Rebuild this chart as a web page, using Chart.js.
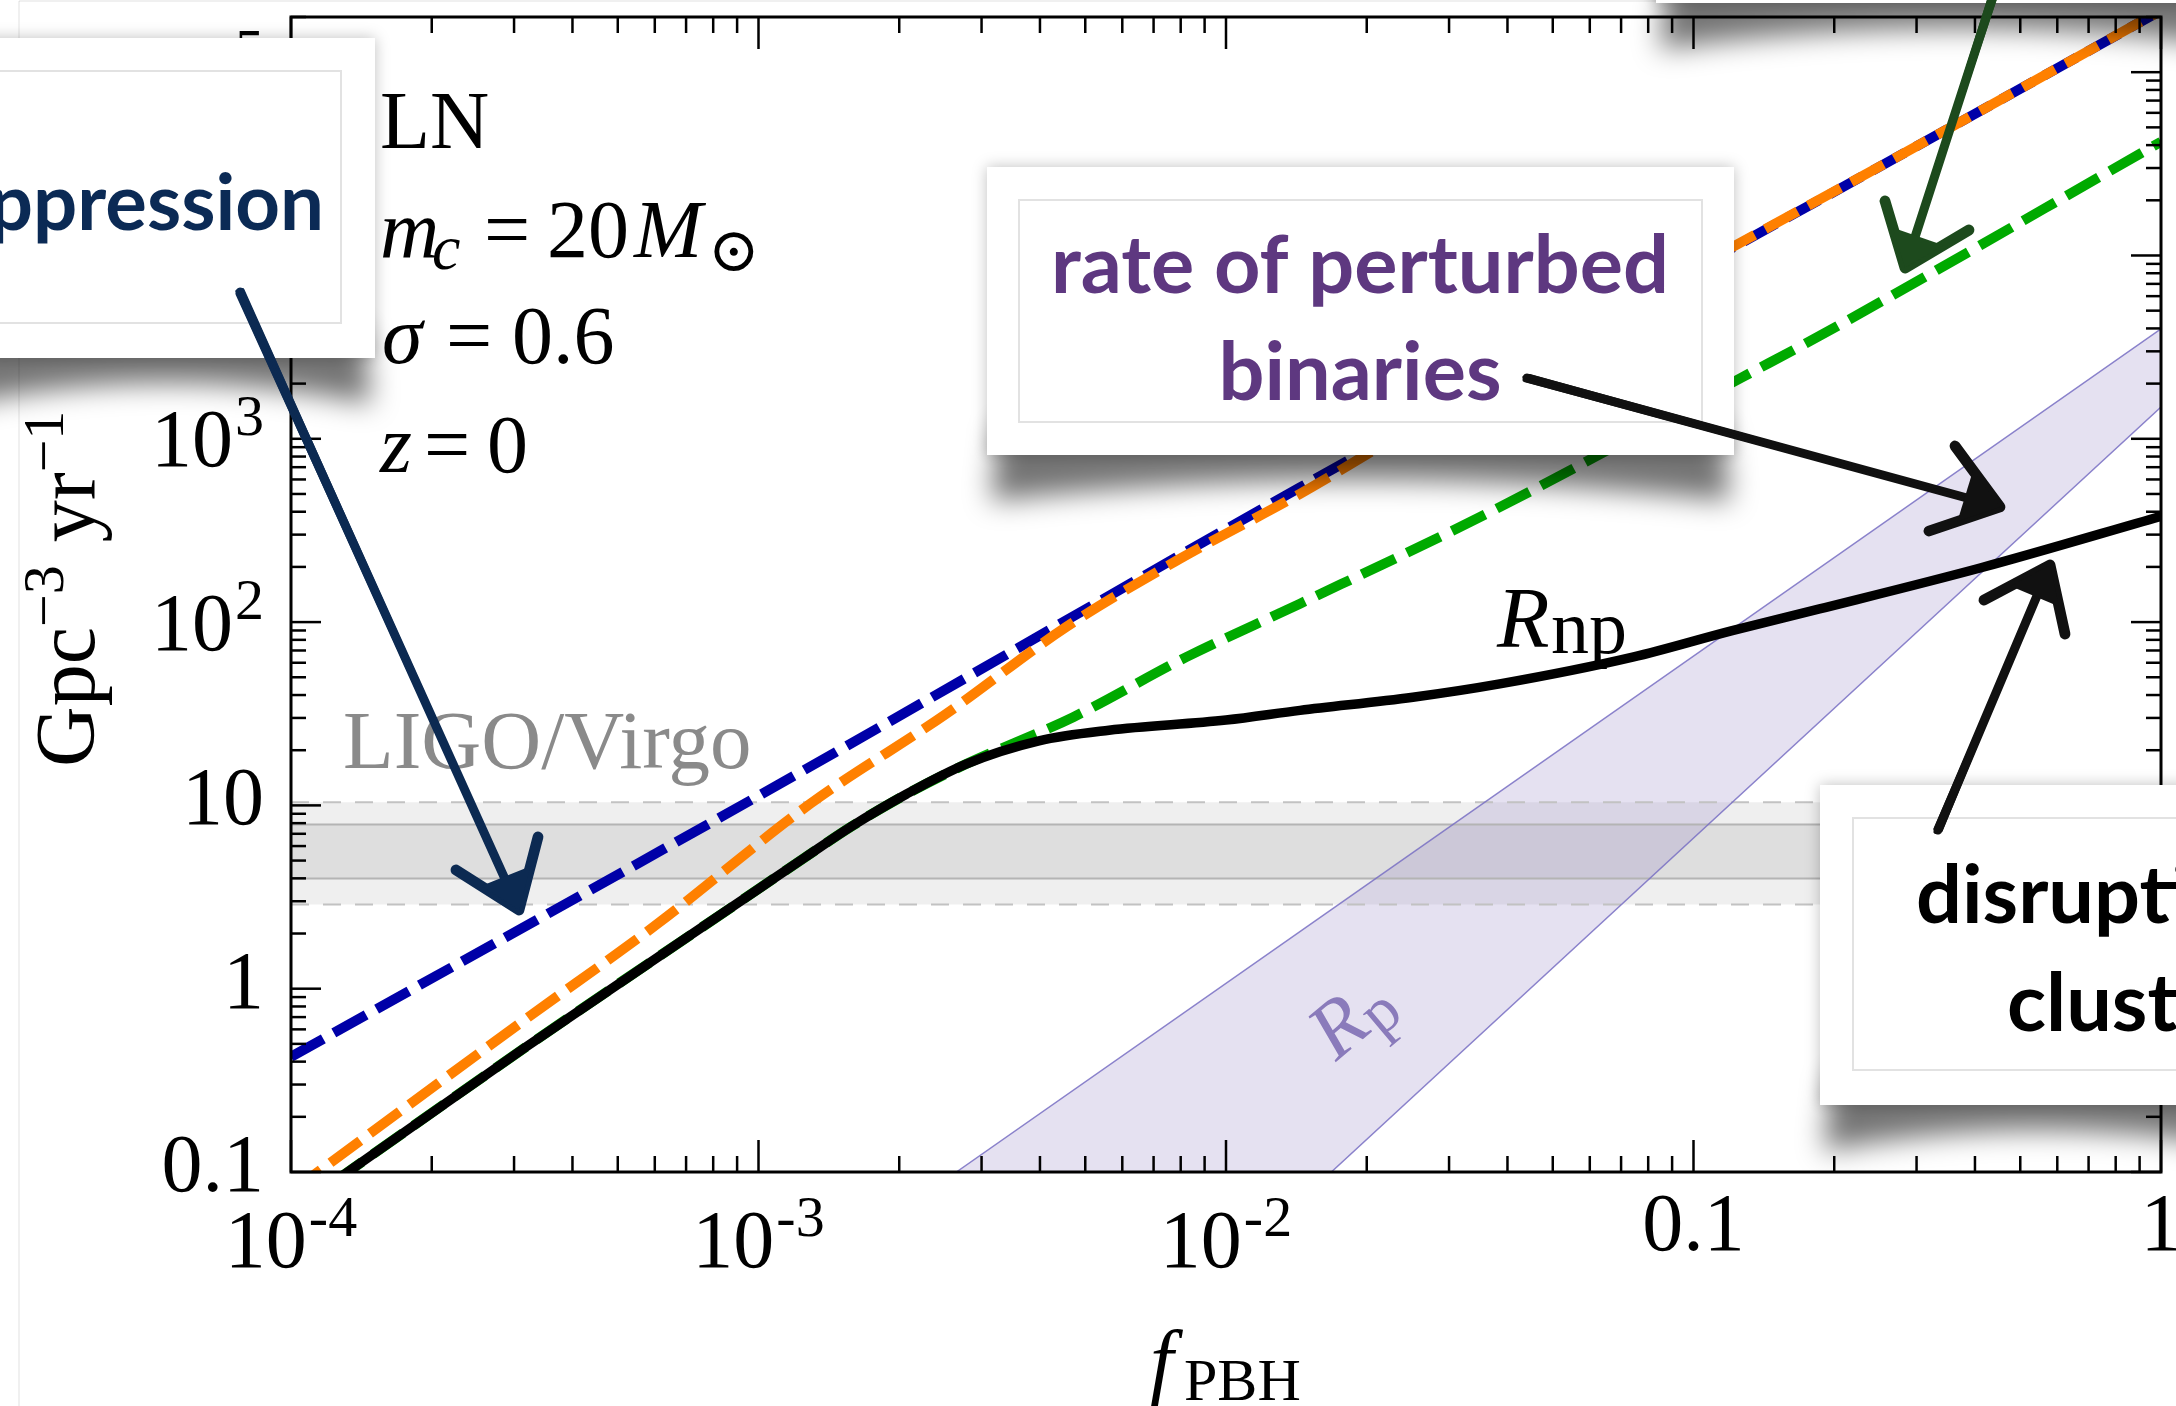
<!DOCTYPE html>
<html>
<head>
<meta charset="utf-8">
<script src="https://cdn.jsdelivr.net/npm/chart.js@4.4.0/dist/chart.umd.min.js"></script>
<style>
  html, body { margin: 0; padding: 0; background: #fff; }
  #wrap { width: 2176px; height: 1406px; }
</style>
</head>
<body>
<div id="wrap"><canvas id="rateChart" width="2176" height="1406"></canvas></div>
<script>
// axis ticks
const xTickValues = [1e-4, 1e-3, 1e-2, 0.1, 1];
const xTickLabels = [["10", "-4"], ["10", "-3"], ["10", "-2"], ["0.1"], ["1"]];
const yTickValues = [0.1, 1, 10, 100, 1e3, 1e4, 1e5];
const yTickLabels = [["0.1"], ["1"], ["10"], ["10", "2"], ["10", "3"], ["10", "4"], ["10", "5"]];

// blue dashed: no suppression
const fBlue = [1e-4, 1.11e-3, 1.44e-2, 0.392, 1];
const rateBlue = [0.425, 13.1, 543, 57500, 2.17e5];

// orange dashed: early-universe suppression
const fOrange = [1e-4, 3.16e-4, 6.08e-4, 1.29e-3, 2.52e-3, 4.55e-3, 7.96e-3, 1.44e-2, 3.16e-2, 0.392, 1];
const rateOrange = [0.078, 0.676, 2.26, 10.2, 31.6, 94, 221, 501, 1650, 57500, 2.17e5];

// green dashed
const fGreen = [1e-4, 3.16e-4, 1e-3, 1.26e-3, 1.58e-3, 2.07e-3, 2.78e-3, 4.71e-3, 8.22e-3, 1.44e-2, 3.85e-2, 0.127, 0.186, 1];
const rateGreen = [0.0605, 0.475, 3.5, 5.22, 7.67, 11.5, 16.8, 30.3, 64.4, 126, 424, 2163, 3640, 41700];

// black solid: R_np
const fNp = [1e-4, 3.16e-4, 1e-3, 1.26e-3, 1.58e-3, 2.07e-3, 2.78e-3, 3.98e-3, 5.62e-3, 1e-2, 1.44e-2, 2.51e-2, 3.85e-2, 7.41e-2, 0.121, 0.186, 0.412, 1];
const rateNp = [0.0605, 0.475, 3.5, 5.22, 7.67, 11.5, 16.8, 22.5, 25.7, 29.2, 33.0, 38.9, 46.0, 64.4, 89.9, 118, 198, 378];

// purple band: R_p
const fBand = [2.65e-3, 1.68e-2, 1];
const bandUpper = [0.1, 2.7, 3980];
const bandLower = [0.0013, 0.1, 1490];

// LIGO/Virgo band
const fLigo = [1e-4, 1];
const ligoOuter = [2.88, 10.4];
const ligoInner = [3.99, 7.87];

const serif = '"Liberation Serif", "Times New Roman", serif';
const sans = 'Lato, "Open Sans", sans-serif';

const pts = (xs, ys) => xs.map((f, i) => ({ x: f, y: ys[i] }));
const flat = (xs, v) => xs.map((f) => ({ x: f, y: v }));

function line(ctx, x0, y0, x1, y1) {
  ctx.beginPath();
  ctx.moveTo(x0, y0);
  ctx.lineTo(x1, y1);
  ctx.stroke();
}

// tick label with optional superscript
function drawTickLabel(ctx, parts, x, base, align) {
  ctx.font = "82px " + serif;
  const w1 = ctx.measureText(parts[0]).width;
  let w2 = 0;
  if (parts[1]) {
    ctx.font = "58px " + serif;
    w2 = ctx.measureText(parts[1]).width + 2;
  }
  const left = align === "right" ? x - w1 - w2 : x - (w1 + w2) / 2;
  ctx.font = "82px " + serif;
  ctx.fillText(parts[0], left, base);
  if (parts[1]) {
    ctx.font = "58px " + serif;
    ctx.fillText(parts[1], left + w1 + 2, base - 31);
  }
}

// Frame, ticks and tick labels
const frameAxes = {
  id: "frameAxes",
  afterDatasetsDraw(chart) {
    const { ctx, chartArea: a, scales } = chart;
    const x = scales.x, y = scales.y;
    ctx.save();
    ctx.strokeStyle = "#000";
    ctx.lineWidth = 2.5;
    for (let e = -4; e <= 0; e++) {
      for (let m = 1; m <= 9; m++) {
        const v = m * Math.pow(10, e);
        if (v > 1.0001) break;
        const px = x.getPixelForValue(v);
        const len = m === 1 ? 32 : 16;
        line(ctx, px, a.bottom, px, a.bottom - len);
        line(ctx, px, a.top, px, a.top + len);
      }
    }
    for (let e = -1; e <= 5; e++) {
      for (let m = 1; m <= 9; m++) {
        const v = m * Math.pow(10, e);
        if (v > y.max) break;
        const py = y.getPixelForValue(v);
        const len = m === 1 ? 30 : 15;
        line(ctx, a.left, py, a.left + len, py);
        line(ctx, a.right, py, a.right - len, py);
      }
    }
    ctx.lineWidth = 3;
    ctx.strokeRect(a.left, a.top, a.right - a.left, a.bottom - a.top);

    ctx.fillStyle = "#000";
    xTickValues.forEach((v, i) => {
      const lab = xTickLabels[i];
      drawTickLabel(ctx, lab, x.getPixelForValue(v), lab[1] ? 1267 : 1250, "center");
    });
    yTickValues.forEach((v, i) => {
      const lab = yTickLabels[i];
      const py = y.getPixelForValue(v);
      drawTickLabel(ctx, lab, 264, py + (lab[1] ? 27.5 : 19), "right");
    });

    // axis titles
    ctx.font = "italic 84px " + serif;
    ctx.fillText("f", 1150, 1389);
    ctx.font = "60px " + serif;
    ctx.fillText("PBH", 1184, 1400);

    ctx.save();
    ctx.translate(94, 767);
    ctx.rotate(-Math.PI / 2);
    let cx = 0;
    const yTitle = [
      ["Gpc", 84, 0],
      ["\u22123", 58, -31],
      [" yr", 84, 0],
      ["\u22121", 58, -31],
    ];
    yTitle.forEach(([t, s, dy]) => {
      ctx.font = s + "px " + serif;
      ctx.fillText(t, cx, dy);
      cx += ctx.measureText(t).width + (dy ? 2 : 0);
    });
    ctx.restore();
    ctx.restore();
  },
};

function mathRow(ctx, parts, y) {
  parts.forEach((p) => {
    ctx.font = (p.i ? "italic " : "") + (p.s || 82) + "px " + (p.f || serif);
    ctx.fillText(p.t, p.x, y + (p.dy || 0));
  });
}

function callout(ctx, x0, y0, x1, y1, inner) {
  ctx.save();
  ctx.filter = "blur(14px)";
  ctx.fillStyle = "rgba(0,0,0,0.55)";
  ctx.beginPath();
  ctx.moveTo(x0 + 12, y1 - 30);
  ctx.lineTo(x1 - 12, y1 - 30);
  ctx.lineTo(x1 - 4, y1 + 46);
  ctx.quadraticCurveTo((x0 + x1) / 2, y1 + 4, x0 + 4, y1 + 46);
  ctx.closePath();
  ctx.fill();
  ctx.restore();

  ctx.save();
  ctx.shadowColor = "rgba(0,0,0,0.25)";
  ctx.shadowBlur = 14;
  ctx.fillStyle = "#fff";
  ctx.fillRect(x0, y0, x1 - x0, y1 - y0);
  ctx.restore();

  if (inner) {
    ctx.save();
    ctx.strokeStyle = "#e2e2e2";
    ctx.lineWidth = 2;
    ctx.strokeRect(inner[0], inner[1], inner[2] - inner[0], inner[3] - inner[1]);
    ctx.restore();
  }
}

function sketchArrow(ctx, color, x0, y0, x1, y1, b1, b2, w) {
  ctx.save();
  ctx.strokeStyle = color;
  ctx.fillStyle = color;
  ctx.lineCap = "round";
  ctx.lineJoin = "round";
  const offs = [[0, 0, w], [2.5, -2, w * 0.45], [-2.5, 2, w * 0.45], [4, 1, 1.4], [-4, -1, 1.4]];
  offs.forEach(([dx, dy, lw]) => {
    ctx.lineWidth = lw;
    line(ctx, x0 + dx, y0 + dy, x1 + dx * 0.3, y1 + dy * 0.3);
  });
  ctx.lineWidth = w * 1.2;
  ctx.beginPath();
  ctx.moveTo(b1[0], b1[1]);
  ctx.lineTo(x1, y1);
  ctx.lineTo(b2[0], b2[1]);
  ctx.stroke();
  ctx.beginPath();
  ctx.moveTo(x1, y1);
  ctx.lineTo(x1 + (b1[0] - x1) * 0.6, y1 + (b1[1] - y1) * 0.6);
  ctx.lineTo(x1 + (b2[0] - x1) * 0.6, y1 + (b2[1] - y1) * 0.6);
  ctx.closePath();
  ctx.fill();
  ctx.restore();
}

function fitSize(ctx, text, width, weight) {
  ctx.font = weight + " 100px " + sans;
  return (100 * width) / ctx.measureText(text).width;
}

// Labels, call-out boxes and arrows on top of the plot
const annotations = {
  id: "annotations",
  afterDraw(chart) {
    const ctx = chart.ctx;
    ctx.save();

    // faint outer frame of the slide
    ctx.strokeStyle = "rgba(0,0,0,0.06)";
    ctx.lineWidth = 2;
    line(ctx, 19, 1, 1656, 1);
    line(ctx, 19, 1, 19, 1406);

    ctx.fillStyle = "#8a8a8a";
    ctx.font = "83px " + serif;
    ctx.fillText("LIGO/Virgo", 343, 768);

    ctx.fillStyle = "#000";
    ctx.font = "italic 86px " + serif;
    ctx.fillText("R", 1497, 647);
    ctx.font = "76px " + serif;
    ctx.fillText("np", 1551, 653);

    ctx.save();
    ctx.fillStyle = "#8a7bbb";
    ctx.translate(1336, 1062);
    ctx.rotate(-0.7);
    ctx.font = "italic 80px " + serif;
    ctx.fillText("R", 0, 0);
    ctx.font = "64px " + serif;
    ctx.fillText("p", 50, 10);
    ctx.restore();

    ctx.fillStyle = "#000";
    mathRow(ctx, [{ t: "LN", x: 380 }], 148);
    mathRow(ctx, [
      { t: "m", x: 380, i: true },
      { t: "c", x: 432, i: true, s: 64, dy: 12 },
      { t: "=", x: 484 },
      { t: "20", x: 547 },
      { t: "M", x: 634, i: true },
      { t: "\u2299", x: 708, s: 62, dy: 14, f: '"DejaVu Serif", serif' },
    ], 257);
    mathRow(ctx, [
      { t: "\u03c3", x: 382, i: true },
      { t: "=", x: 446 },
      { t: "0.6", x: 512 },
    ], 363);
    mathRow(ctx, [
      { t: "z", x: 380, i: true },
      { t: "=", x: 424 },
      { t: "0", x: 487 },
    ], 472);

    // call-out boxes
    const textSize = fitSize(ctx, "rate of perturbed", 618, "bold");

    callout(ctx, 1656, -120, 2260, 3, null);

    callout(ctx, -40, 38, 375, 358, [-10, 71, 341, 323]);
    ctx.fillStyle = "#0b2a55";
    const supSize = fitSize(ctx, "pression", 291, "bold");
    ctx.font = "bold " + supSize + "px " + sans;
    ctx.textAlign = "right";
    ctx.fillText("suppression", 324, 230);
    ctx.textAlign = "left";

    callout(ctx, 987, 167, 1734, 455, [1019, 200, 1702, 422]);
    ctx.fillStyle = "#5e3880";
    ctx.font = "bold " + textSize + "px " + sans;
    ctx.textAlign = "center";
    ctx.fillText("rate of perturbed", 1360, 293);
    ctx.fillText("binaries", 1360, 400);
    ctx.textAlign = "left";

    callout(ctx, 1820, 785, 2260, 1105, [1853, 818, 2240, 1070]);
    ctx.fillStyle = "#000";
    ctx.font = "bold " + textSize + "px " + sans;
    ctx.fillText("disruption in", 1916, 923);
    ctx.fillText("clusters", 2007, 1031);

    // arrows
    sketchArrow(ctx, "#0c2a52", 240, 292, 519, 910, [456, 870], [538, 837], 9);
    sketchArrow(ctx, "#111", 1527, 378, 2000, 507, [1955, 446], [1929, 531], 9);
    sketchArrow(ctx, "#111", 1938, 830, 2050, 565, [1984, 600], [2065, 634], 9);
    sketchArrow(ctx, "#1d4a1d", 1995, -10, 1905, 268, [1885, 201], [1969, 230], 9);

    ctx.restore();
  },
};

const ctx = document.getElementById("rateChart").getContext("2d");

new Chart(ctx, {
  type: "line",
  data: {
    datasets: [
      {
        label: "R_np",
        data: pts(fNp, rateNp),
        borderColor: "#000",
        borderWidth: 9.5,
        cubicInterpolationMode: "monotone",
        fill: false,
      },
      {
        label: "suppressed",
        data: pts(fOrange, rateOrange),
        borderColor: "#ff8000",
        borderWidth: 10,
        borderDash: [37, 12],
        cubicInterpolationMode: "monotone",
        fill: false,
      },
      {
        label: "unsuppressed",
        data: pts(fBlue, rateBlue),
        borderColor: "#0000a8",
        borderWidth: 10,
        borderDash: [37, 12],
        cubicInterpolationMode: "monotone",
        fill: false,
      },
      {
        label: "green",
        data: pts(fGreen, rateGreen),
        borderColor: "#00aa00",
        borderWidth: 10,
        borderDash: [37, 13],
        cubicInterpolationMode: "monotone",
        fill: false,
      },
      {
        label: "R_p upper",
        data: pts(fBand, bandUpper),
        borderColor: "rgba(120,110,195,0.85)",
        borderWidth: 1.5,
        backgroundColor: "rgba(150,135,200,0.25)",
        fill: "+1",
        tension: 0,
      },
      {
        label: "R_p lower",
        data: pts(fBand, bandLower),
        borderColor: "rgba(120,110,195,0.85)",
        borderWidth: 1.5,
        fill: false,
        tension: 0,
      },
      {
        label: "LV inner high",
        data: flat(fLigo, ligoInner[1]),
        borderColor: "#b4b4b4",
        borderWidth: 2,
        backgroundColor: "#dedede",
        fill: "+1",
      },
      {
        label: "LV inner low",
        data: flat(fLigo, ligoInner[0]),
        borderColor: "#b4b4b4",
        borderWidth: 2,
        fill: false,
      },
      {
        label: "LV outer high",
        data: flat(fLigo, ligoOuter[1]),
        borderColor: "#c2c2c2",
        borderWidth: 2,
        borderDash: [18, 14],
        backgroundColor: "#efefef",
        fill: "+1",
      },
      {
        label: "LV outer low",
        data: flat(fLigo, ligoOuter[0]),
        borderColor: "#c2c2c2",
        borderWidth: 2,
        borderDash: [18, 14],
        fill: false,
      },
    ],
  },
  options: {
    responsive: false,
    animation: false,
    layout: { padding: { left: 291, right: 15, top: 17, bottom: 234 } },
    elements: { point: { radius: 0 } },
    scales: {
      x: { type: "logarithmic", min: 1e-4, max: 1, display: false },
      y: { type: "logarithmic", min: 0.1, max: 2e5, display: false },
    },
    plugins: {
      legend: { display: false },
      tooltip: { enabled: false },
      filler: { drawTime: "beforeDatasetsDraw" },
    },
  },
  plugins: [frameAxes, annotations],
});
</script>
</body>
</html>
